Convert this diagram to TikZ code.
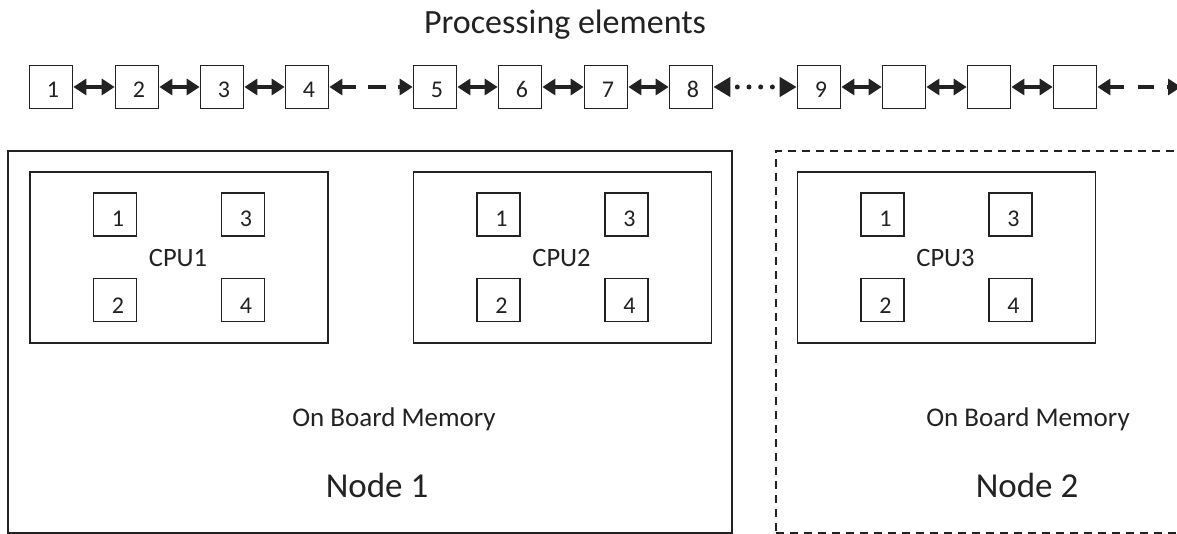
\documentclass[tikz,border=0pt]{standalone}
\usepackage{fontspec}
\setmainfont{Carlito}
\usetikzlibrary{arrows.meta}
\definecolor{ink}{HTML}{222222}
\begin{document}
\begin{tikzpicture}[x=1pt,y=-1pt,
  pe/.style={draw=ink,line width=1.7pt,minimum width=43pt,minimum height=43pt,inner sep=0pt},
  num/.style={anchor=base,text=ink,font=\fontsize{24}{27}\selectfont,inner sep=0pt},
  cpubox/.style={draw=ink,line width=1.7pt,minimum width=298pt,minimum height=171pt,inner sep=0pt},
  cpulabel/.style={anchor=base,text=ink,font=\fontsize{26.5}{30}\selectfont,inner sep=0pt},
  memlabel/.style={anchor=base,text=ink,font=\fontsize{27}{30}\selectfont,inner sep=0pt},
  nodelabel/.style={anchor=base,text=ink,font=\fontsize{35}{40}\selectfont,inner sep=0pt},
  titlelabel/.style={anchor=base,text=ink,font=\fontsize{34}{40}\selectfont,inner sep=0pt},
  link/.style={draw=ink,line width=3.2pt,{Triangle[length=13pt,width=16pt]}-{Triangle[length=13pt,width=16pt]}},
  dotlink/.style={draw=ink,line width=5pt,line cap=round,dash pattern=on 0pt off 11.7pt,dash phase=3.7pt,{Triangle[length=17pt,width=19pt]}-{Triangle[length=17pt,width=19pt]}},
  nodebox/.style={draw=ink,line width=1.6pt,minimum height=382pt,inner sep=0pt}
]
\useasboundingbox (0,0) rectangle (1177,534);
\clip (0,0) rectangle (1177,534);

% title
\node[titlelabel] (title) at (565,34) {Processing elements};

% processing elements row
\foreach \i/\x in {1/51,2/137,3/222,4/307,5/435,6/520,7/606,8/691,9/819,10/904,11/989,12/1075}
  \node[pe] (p\i) at (\x,87) {};
\foreach \i in {1,...,9}
  \node[num] (p\i n) at ([xshift=2pt,yshift=-11pt]p\i.center) {\i};

\draw[link] (p1) -- (p2);
\draw[link] (p2) -- (p3);
\draw[link] (p3) -- (p4);
\draw[link,dash pattern=on 14pt off 12pt on 18pt off 12pt] (p4) -- (p5);
\draw[link] (p5) -- (p6);
\draw[link] (p6) -- (p7);
\draw[link] (p7) -- (p8);
\draw[dotlink] (p8) -- (p9);
\draw[link] (p9) -- (p10);
\draw[link] (p10) -- (p11);
\draw[link] (p11) -- (p12);
\coordinate (pend) at (1181,87);
\draw[link,dash pattern=on 14pt off 14pt on 16pt off 13pt] (p12) -- (pend);

% compute nodes
\node[nodebox,minimum width=724pt] (node1) at (370,342) {};
\node[nodebox,minimum width=414pt,dash pattern=on 8pt off 6pt] (node2) at (983,342) {};

\foreach \c/\x in {1/179,2/562.5,3/946.5}{
  \node[cpubox] (cpu\c) at (\x,257.5) {};
  \node[cpulabel] (cpu\c l) at (\x-1,267) {CPU\c};
  \node[pe] (c\c a) at (\x-64,214.5) {};
  \node[pe] (c\c c) at (\x+64,214.5) {};
  \node[pe] (c\c b) at (\x-64,300) {};
  \node[pe] (c\c d) at (\x+64,300) {};
  \node[num] (c\c an) at (\x-61,227) {1};
  \node[num] (c\c cn) at (\x+67,227) {3};
  \node[num] (c\c bn) at (\x-61,313) {2};
  \node[num] (c\c dn) at (\x+67,313) {4};
}

\node[memlabel] (mem1) at (394,426) {On Board Memory};
\node[memlabel] (mem2) at (1028,426) {On Board Memory};
\node[nodelabel] (n1l) at (377,497) {Node 1};
\node[nodelabel] (n2l) at (1027,497) {Node 2};
\end{tikzpicture}
\end{document}
